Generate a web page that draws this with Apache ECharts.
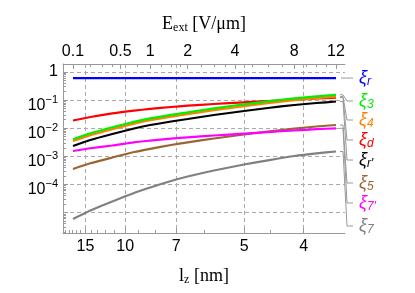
<!DOCTYPE html>
<html><head><meta charset="utf-8">
<script src="https://cdn.jsdelivr.net/npm/echarts@6/dist/echarts.min.js"></script>
<style>html,body{margin:0;padding:0;background:#fff}#c{width:415px;height:293px}</style>
</head><body><div id="c"></div>
<script>
// ---- data ----
const fieldE = [0.1, 0.2, 0.4, 0.7, 1, 1.5, 2, 3, 4.5, 6, 8, 10, 12];      // E_ext [V/um]
const xiR  = [0.61, 0.61, 0.61, 0.61, 0.61, 0.61, 0.61, 0.61, 0.61, 0.61, 0.61, 0.61, 0.61];
const xi3  = [0.00403, 0.00658, 0.01077, 0.01689, 0.0225, 0.02995, 0.0368, 0.0511, 0.0708, 0.0907, 0.1158, 0.1364, 0.1544];
const xi4  = [0.00348, 0.00568, 0.00929, 0.01458, 0.0194, 0.02585, 0.0318, 0.0441, 0.0611, 0.0783, 0.0999, 0.1177, 0.1332];
const xiD  = [0.0188, 0.02503, 0.03363, 0.0423, 0.04862, 0.05682, 0.0632, 0.07263, 0.0835, 0.0929, 0.1042, 0.114, 0.1227];
const xiRp = [0.00233, 0.0038, 0.00622, 0.00976, 0.013, 0.0173, 0.02125, 0.0295, 0.0409, 0.0524, 0.0669, 0.0788, 0.0892];
const xi5  = [0.000353, 0.000564, 0.000906, 0.00142, 0.00185, 0.00252, 0.00315, 0.0043, 0.00597, 0.00763, 0.00976, 0.01149, 0.013];
const xi7p = [0.00154, 0.00193, 0.00242, 0.00315, 0.00362, 0.00427, 0.00475, 0.0055, 0.00643, 0.00726, 0.00835, 0.00921, 0.00992];
const xi7  = [5.87e-6, 1.18e-5, 2.46e-5, 4.94e-5, 7.76e-5, 1.32e-4, 1.91e-4, 3.12e-4, 5.11e-4, 7.21e-4, 1.025e-3, 1.279e-3, 1.482e-3];

const topTicks = [0.1, 0.5, 1, 2, 4, 8, 12];
const topMinor = [0.2, 0.3, 0.4, 0.75, 1.25, 1.5, 1.75, 2.5, 3, 3.5, 5, 6, 7, 9, 10, 11];
const bottomTicks = [15, 10, 7, 5, 4];
const bottomMinor = [20, 19, 18, 17, 16, 14, 13, 12, 11, 9, 8, 6, 4.5];
const yTicks = [1, 0.1, 0.01, 0.001, 0.0001, 0.00001];
const yLabels = [1, 0.1, 0.01, 0.001, 0.0001];
const yMinor = [];
[1e-6, 1e-5, 1e-4, 1e-3, 1e-2, 1e-1].forEach(d => { for (let m = 2; m <= 9; m++) yMinor.push(+(m * d).toPrecision(3)); });
const LZ_K = 8.26;   // l_z [nm] = LZ_K * E^(-1/3)

const seriesDefs = [
  {name: 'ξr',  sub: 'r',  data: xiR,  color: '#0000ff'},
  {name: 'ξ7',  sub: '7',  data: xi7,  color: '#808080'},
  {name: 'ξ5',  sub: '5',  data: xi5,  color: '#996633'},
  {name: "ξ7'", sub: '7′', data: xi7p, color: '#ff00ff'},
  {name: "ξr'", sub: 'r′', data: xiRp, color: '#000000'},
  {name: 'ξd',  sub: 'd',  data: xiD,  color: '#ff0000'},
  {name: 'ξ4',  sub: '4',  data: xi4,  color: '#ff8000'},
  {name: 'ξ3',  sub: '3',  data: xi3,  color: '#00ee00'}
];
// right-hand labels, top to bottom, with their layout rows (px)
const labelOrder = ['ξr', 'ξ3', 'ξ4', 'ξd', "ξr'", 'ξ5', "ξ7'", 'ξ7'];
const labelRows  = [null, 101, 120, 140, 160, 183, 203, 226];

// ---- axes ----
const cbrt = Math.cbrt;
const uMin = 0.3948, uMax = 2.3518;
const yMin = 1.864e-6, yMax = 1.927;
const frame = '#999';
const gridLine = {color: '#aaa', type: [4, 3], width: 1};
const sans = 'Liberation Sans';
const serif = 'Liberation Serif';

function nearest(arr, v) { let b = arr[0]; arr.forEach(a => { if (Math.abs(a - v) < Math.abs(b - v)) b = a; }); return b; }

function xBase(pos, extra) {
  return Object.assign({
    type: 'value', min: uMin, max: uMax, position: pos,
    axisLine: {show: false}, axisTick: {show: false}, axisLabel: {show: false}, splitLine: {show: false}
  }, extra);
}
function yBase(extra) {
  return Object.assign({
    type: 'log', logBase: 10, min: yMin, max: yMax, position: 'left',
    axisLine: {show: false}, axisTick: {show: false}, axisLabel: {show: false}, splitLine: {show: false}
  }, extra);
}

const xAxis = [
  xBase('bottom', {
    axisLine: {show: true, lineStyle: {color: frame, width: 1}},
    axisTick: {show: true, inside: true, length: 5, lineStyle: {color: frame}, customValues: bottomTicks.map(l => LZ_K / l)},
    axisLabel: {show: true, margin: 6, color: '#000', fontFamily: sans, fontSize: 16,
      customValues: bottomTicks.map(l => LZ_K / l),
      formatter: v => String(nearest(bottomTicks, LZ_K / v))},
    splitLine: {show: true, lineStyle: gridLine},
    name: '{a|l}{b|z}{a| [nm]}', nameLocation: 'middle', nameGap: 33,
    nameTextStyle: {rich: {
      a: {fontFamily: serif, fontSize: 18, color: '#000'},
      b: {fontFamily: serif, fontSize: 12, color: '#000', padding: [8, 0, 0, 0]}
    }}
  }),
  xBase('bottom', {
    axisTick: {show: true, inside: true, length: 3, lineStyle: {color: frame}, customValues: bottomMinor.map(l => LZ_K / l)}
  }),
  xBase('top', {
    axisLine: {show: true, lineStyle: {color: frame, width: 1}},
    axisTick: {show: true, inside: true, length: 5, lineStyle: {color: frame}, customValues: topTicks.map(cbrt)},
    axisLabel: {show: true, margin: 4, color: '#000', fontFamily: sans, fontSize: 16,
      customValues: topTicks.map(cbrt),
      formatter: v => String(nearest(topTicks, v * v * v))},
    name: '{a|E}{b|ext}{a| [V/μm]}', nameLocation: 'middle', nameGap: 30,
    nameTextStyle: {rich: {
      a: {fontFamily: serif, fontSize: 18, color: '#000'},
      b: {fontFamily: serif, fontSize: 12, color: '#000', padding: [8, 0, 0, 0]}
    }}
  }),
  xBase('top', {
    axisTick: {show: true, inside: true, length: 3, lineStyle: {color: frame}, customValues: topMinor.map(cbrt)}
  })
];

const yAxis = [
  yBase({
    axisLine: {show: true, lineStyle: {color: frame, width: 1}},
    axisTick: {show: true, inside: true, length: 5, lineStyle: {color: frame}, customValues: yTicks},
    axisLabel: {show: true, margin: 5, color: '#000', customValues: yLabels,
      formatter: v => {
        const k = Math.round(Math.log10(v));
        return k === 0 ? '{one|1}' : '{b|10}{s|−' + (-k) + '}';
      },
      rich: {
        one: {fontFamily: sans, fontSize: 16, color: '#000'},
        b: {fontFamily: sans, fontSize: 16, color: '#000', padding: [11, 0, 0, 0]},
        s: {fontFamily: sans, fontSize: 11, color: '#000'}
      }},
    splitLine: {show: true, lineStyle: gridLine}
  }),
  yBase({
    axisTick: {show: true, inside: true, length: 3, lineStyle: {color: frame}, customValues: yMinor}
  })
];

const series = seriesDefs.map(s => ({
  name: s.name, type: 'line', xAxisIndex: 0, yAxisIndex: 0,
  data: fieldE.map((e, i) => [cbrt(e), s.data[i]]),
  showSymbol: false, smooth: 0.2, silent: true,
  lineStyle: {color: s.color, width: 2.2}, itemStyle: {color: s.color}
}));

const chart = echarts.init(document.getElementById('c'), null, {renderer: 'canvas'});
chart.setOption({
  animation: false,
  backgroundColor: '#fff',
  grid: {left: 63, top: 64, width: 282, height: 169, containLabel: false, outerBoundsMode: 'none'},
  xAxis, yAxis, series
});

// ---- right-hand callout labels ----
const graphics = [];
const lastE = fieldE[fieldE.length - 1];
labelOrder.forEach((nm, idx) => {
  const s = seriesDefs.find(d => d.name === nm);
  const p = chart.convertToPixel({xAxisIndex: 0, yAxisIndex: 0}, [cbrt(lastE), s.data[s.data.length - 1]]);
  const ly = labelRows[idx] == null ? p[1] : labelRows[idx];
  const x0 = p[0];
  const pts = labelRows[idx] == null
    ? [[x0 + 5, p[1]], [x0 + 17, p[1]]]
    : [[x0 + 4, p[1]], [x0 + 7, p[1]], [x0 + 11, ly], [x0 + 17, ly]];
  graphics.push({type: 'polyline', shape: {points: pts}, style: {stroke: '#999', lineWidth: 1, fill: null}, silent: true});
  graphics.push({type: 'text', x: x0 + 23, y: ly, silent: true,
    style: {text: '{g|ξ}{s|' + s.sub + '}', verticalAlign: 'middle', align: 'left',
      rich: {
        g: {fontFamily: sans, fontStyle: 'italic', fontSize: 18, fill: s.color},
        s: {fontFamily: sans, fontStyle: 'italic', fontSize: 12, fill: s.color, padding: [8, 0, 0, 0]}
      }}});
});
chart.setOption({graphic: graphics});
</script>
</body></html>
